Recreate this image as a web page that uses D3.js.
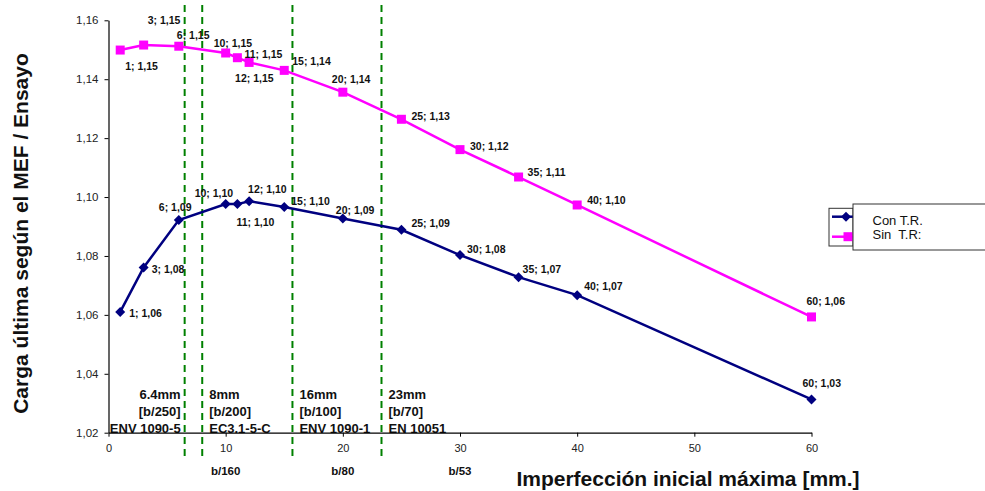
<!DOCTYPE html>
<html>
<head>
<meta charset="utf-8">
<script src="https://cdn.jsdelivr.net/npm/d3@7"></script>
<style>
  html, body { margin: 0; padding: 0; background: #fff; }
  svg { display: block; font-family: Arial, "Liberation Sans", sans-serif; }
  text { white-space: pre; }
</style>
</head>
<body>
<svg id="chart" width="985" height="491"></svg>
<script>
// Imperfection amplitude [mm] for both series
const imperfections = [1, 3, 6, 10, 11, 12, 15, 20, 25, 30, 35, 40, 60];
// FEM / test ultimate-load ratio, with residual stresses
const conTR = [1.0610, 1.0761, 1.0922, 1.0976, 1.0976, 1.0986, 1.0966, 1.0927, 1.0889, 1.0803, 1.0728, 1.0667, 1.0313];
// FEM / test ultimate-load ratio, without residual stresses
const sinTR = [1.1499, 1.1516, 1.1512, 1.1489, 1.1473, 1.1457, 1.1430, 1.1356, 1.1264, 1.1161, 1.1068, 1.0973, 1.0593];
const seriesNames = ["Con T.R.", "Sin  T.R:"];

// Code reference limits (vertical dashed markers)
const limitPositions = [6.5, 8, 15.7, 23.3];
const limitText = [
  ["6.4mm", "[b/250]", "ENV 1090-5"],
  ["8mm", "[b/200]", "EC3.1-5-C"],
  ["16mm", "[b/100]", "ENV 1090-1"],
  ["23mm", "[b/70]", "EN 10051"]
];
// Slenderness equivalents shown under selected x ticks
const ratioTicks = [10, 20, 30];
const ratioLabels = ["b/160", "b/80", "b/53"];

const xTicks = [0, 10, 20, 30, 40, 50, 60];
const yTicks = [1.02, 1.04, 1.06, 1.08, 1.10, 1.12, 1.14, 1.16];

// Label placement offsets (dx, dy) relative to each point
const conOffsets = [[9,5],[8,6],[-20,-9],[-31,-7],[-1,22],[-1,-8],[7,-2],[-7,-5],[10,-3],[7,-2],[4,-4],[7,-5],[-9,-12]];
const sinOffsets = [[5,20],[4,-21],[-2,-7],[-12,-6],[7,0],[-14,20],[8,-5],[-11,-9],[10,1],[10,0],[9,-1],[10,-1],[-5,-12]];

const locale = d3.formatLocale({decimal: ",", thousands: ".", grouping: [3], currency: ["", "€"]});
const fmt2 = locale.format(".2f");

const svg = d3.select("#chart");
const x = d3.scaleLinear().domain([0, 60]).range([108.5, 811.5]);
const y = d3.scaleLinear().domain([1.02, 1.16]).range([432.7, 20.3]);

const BLUE = "#000080", PINK = "#ff00ff", GREEN = "#008000";

// Reference limit lines
svg.append("g").selectAll("line").data(limitPositions).join("line")
  .attr("x1", d => x(d)).attr("x2", d => x(d))
  .attr("y1", 5).attr("y2", 457)
  .attr("stroke", GREEN).attr("stroke-width", 2)
  .attr("stroke-dasharray", "7,5");

// Limit annotations
const ann = svg.append("g").attr("font-weight", "bold").attr("font-size", 13).attr("fill", "#111");
limitPositions.forEach((p, i) => {
  const first = i === 0;
  const t = ann.append("text")
    .attr("text-anchor", first ? "end" : "start");
  limitText[i].forEach((line, j) => {
    t.append("tspan")
      .attr("x", first ? x(p) - 4 : x(p) + 7)
      .attr("y", 399 + j * 17)
      .text(line);
  });
});

// Axes
const xAxis = d3.axisBottom(x).tickValues(xTicks).tickSize(4).tickSizeOuter(0).tickPadding(8)
  .tickFormat(d3.format("d"));
const gx = svg.append("g").attr("transform", `translate(0,${y(1.02)})`).call(xAxis);
gx.select(".domain").attr("stroke", "#000").attr("stroke-width", 1.2);
gx.selectAll(".tick line").attr("stroke", "#000");
gx.selectAll("text").attr("font-size", 11).attr("fill", "#222").attr("font-family", "Arial, 'Liberation Sans', sans-serif");

const yAxis = d3.axisLeft(y).tickValues(yTicks).tickSize(4).tickSizeOuter(0).tickPadding(6)
  .tickFormat(fmt2);
const gy = svg.append("g").attr("transform", `translate(${x(0)},0)`).call(yAxis);
gy.select(".domain").attr("stroke", "#000").attr("stroke-width", 1.2);
gy.selectAll(".tick line").attr("stroke", "#000");
gy.selectAll("text").attr("font-size", 11.5).attr("fill", "#222").attr("font-family", "Arial, 'Liberation Sans', sans-serif");

// Slenderness labels under ticks
svg.append("g").selectAll("text").data(ratioTicks).join("text")
  .attr("x", d => x(d)).attr("y", 475)
  .attr("text-anchor", "middle").attr("font-weight", "bold").attr("font-size", 11.5).attr("fill", "#111")
  .text((d, i) => ratioLabels[i]);

// Axis titles
svg.append("text")
  .attr("x", 688).attr("y", 486)
  .attr("text-anchor", "middle").attr("font-weight", "bold").attr("font-size", 21).attr("fill", "#111")
  .text("Imperfección inicial máxima [mm.]");
svg.append("text")
  .attr("transform", "translate(28,233.5) rotate(-90)")
  .attr("text-anchor", "middle").attr("font-weight", "bold").attr("font-size", 21).attr("fill", "#111")
  .text("Carga última según el MEF / Ensayo");

// Series
const line = d3.line().x(d => x(d[0])).y(d => y(d[1]));
const conPts = imperfections.map((v, i) => [v, conTR[i]]);
const sinPts = imperfections.map((v, i) => [v, sinTR[i]]);

svg.append("path").datum(sinPts).attr("d", line)
  .attr("fill", "none").attr("stroke", PINK).attr("stroke-width", 2.5);
svg.append("path").datum(conPts).attr("d", line)
  .attr("fill", "none").attr("stroke", BLUE).attr("stroke-width", 2.5);

const square = d3.symbol(d3.symbolSquare, 81);
const diamond = d3.symbol(d3.symbolSquare, 50);

svg.append("g").selectAll("path").data(sinPts).join("path")
  .attr("d", square)
  .attr("transform", d => `translate(${x(d[0])},${y(d[1])})`)
  .attr("fill", PINK);
svg.append("g").selectAll("path").data(conPts).join("path")
  .attr("d", diamond)
  .attr("transform", d => `translate(${x(d[0])},${y(d[1])}) rotate(45)`)
  .attr("fill", BLUE);

// Data labels
function labels(pts, offs) {
  svg.append("g").attr("font-weight", "bold").attr("font-size", 10.5).attr("fill", "#111")
    .selectAll("text").data(pts).join("text")
    .attr("x", (d, i) => x(d[0]) + offs[i][0])
    .attr("y", (d, i) => y(d[1]) + offs[i][1])
    .text(d => `${d[0]}; ${fmt2(d[1])}`);
}
labels(sinPts, sinOffsets);
labels(conPts, conOffsets);

// Legend
const lg = svg.append("g");
lg.append("rect").attr("x", 829).attr("y", 208.3).attr("width", 24).attr("height", 37.7)
  .attr("fill", "#fff").attr("stroke", "#333").attr("stroke-width", 1);
lg.append("line").attr("x1", 832).attr("x2", 853).attr("y1", 216.7).attr("y2", 216.7)
  .attr("stroke", BLUE).attr("stroke-width", 2.5);
lg.append("path").attr("d", diamond).attr("transform", "translate(846,216.7) rotate(45)").attr("fill", BLUE);
lg.append("line").attr("x1", 832).attr("x2", 853).attr("y1", 236.7).attr("y2", 236.7)
  .attr("stroke", PINK).attr("stroke-width", 2.5);
lg.append("path").attr("d", square).attr("transform", "translate(848,236.7)").attr("fill", PINK);
lg.append("rect").attr("x", 853).attr("y", 204).attr("width", 150).attr("height", 46)
  .attr("fill", "#fff").attr("stroke", "#333").attr("stroke-width", 1);
lg.selectAll("text.leg").data(seriesNames).join("text").attr("class", "leg")
  .attr("x", 872.5).attr("y", (d, i) => 225 + i * 14.3)
  .attr("font-size", 13).attr("fill", "#111")
  .text(d => d);
</script>
</body>
</html>
